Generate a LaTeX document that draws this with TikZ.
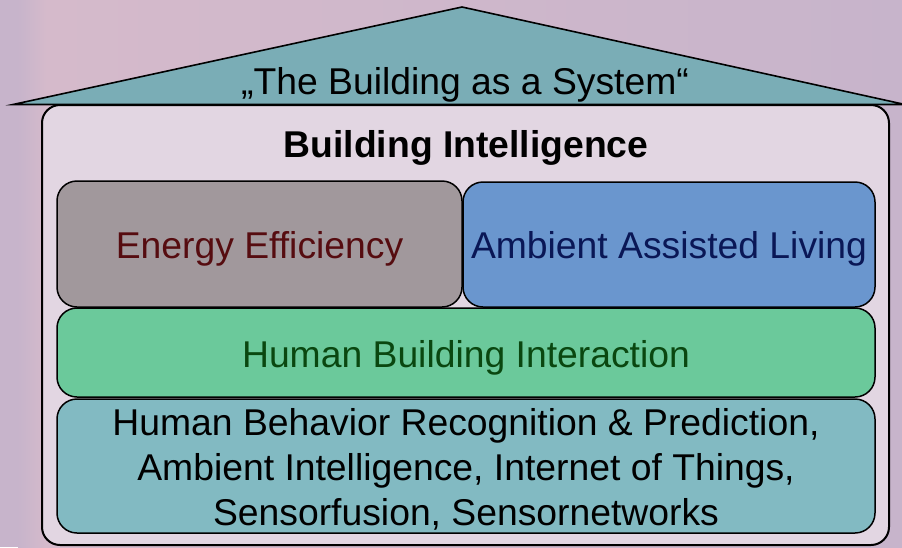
\documentclass[tikz,border=0pt]{standalone}
\usepackage{fontspec}
\setmainfont{Liberation Sans}
\begin{document}
\definecolor{bglav}{HTML}{C7B4CB}
\definecolor{bgpink}{HTML}{D5BACB}
\definecolor{roofteal}{HTML}{7AADB6}
\definecolor{housefill}{HTML}{E2D6E2}
\definecolor{eefill}{HTML}{A1989C}
\definecolor{eetext}{HTML}{560C10}
\definecolor{aalfill}{HTML}{6A96CE}
\definecolor{aaltext}{HTML}{0A1756}
\definecolor{hbifill}{HTML}{6BC99B}
\definecolor{hbitext}{HTML}{0A4710}
\definecolor{basefill}{HTML}{82BAC2}
\tikzset{
  layer/.style={draw=black, line width=1.5pt, rounded corners=20pt,
    inner sep=0pt, outer sep=0pt},
  caption/.style={anchor=base, inner sep=0pt,
    font=\fontsize{37.3}{45}\selectfont},
}
\begin{tikzpicture}[x=1pt,y=-1pt]
  \useasboundingbox (0,0) rectangle (902,547);
  \clip (0,0) rectangle (902,547);
  % backdrop
  \fill[bglav] (0,0) rectangle (902,547);
  \shade[left color=bglav, right color=bgpink] (18,0) rectangle (46,547);
  \shade[left color=bgpink, right color=bglav] (46,0) rectangle (902,547);
  % roof
  \draw[fill=roofteal, line width=1.6pt, line join=miter]
    (13,104.5) -- (462,7) -- (905,104.5) -- cycle;
  \node[caption] (rooftext) at (465,94) {„The Building as a System“};
  % house body
  \node[layer, line width=2pt, rounded corners=18pt, fill=housefill,
    minimum width=847pt, minimum height=440pt] (house) at (465.5,325) {};
  \node[caption, font=\fontsize{37.3}{45}\selectfont\bfseries]
    (bi) at (466,157) {Building Intelligence};
  % application pillars
  \node[layer, fill=eefill, minimum width=405pt, minimum height=126pt]
    (ee) at (259.5,244) {};
  \node[caption, text=eetext] (eet) at (ee.center |- 0,258) {Energy Efficiency};
  \node[layer, fill=aalfill, minimum width=412pt, minimum height=125pt]
    (aal) at (669,244.5) {};
  \node[caption, text=aaltext] (aalt) at (aal.center |- 0,258) {Ambient Assisted Living};
  % interaction layer
  \node[layer, fill=hbifill, minimum width=818pt, minimum height=89pt]
    (hbi) at (466,352.5) {};
  \node[caption, text=hbitext] (hbit) at (466,367) {Human Building Interaction};
  % technology base
  \node[layer, fill=basefill, minimum width=818pt, minimum height=134pt]
    (base) at (466,466) {};
  \node[caption] (b1) at (466,435) {Human Behavior Recognition \& Prediction,};
  \node[caption] (b2) at (466,480) {Ambient Intelligence, Internet of Things,};
  \node[caption] (b3) at (466,525) {Sensorfusion, Sensornetworks};
\end{tikzpicture}
\end{document}
